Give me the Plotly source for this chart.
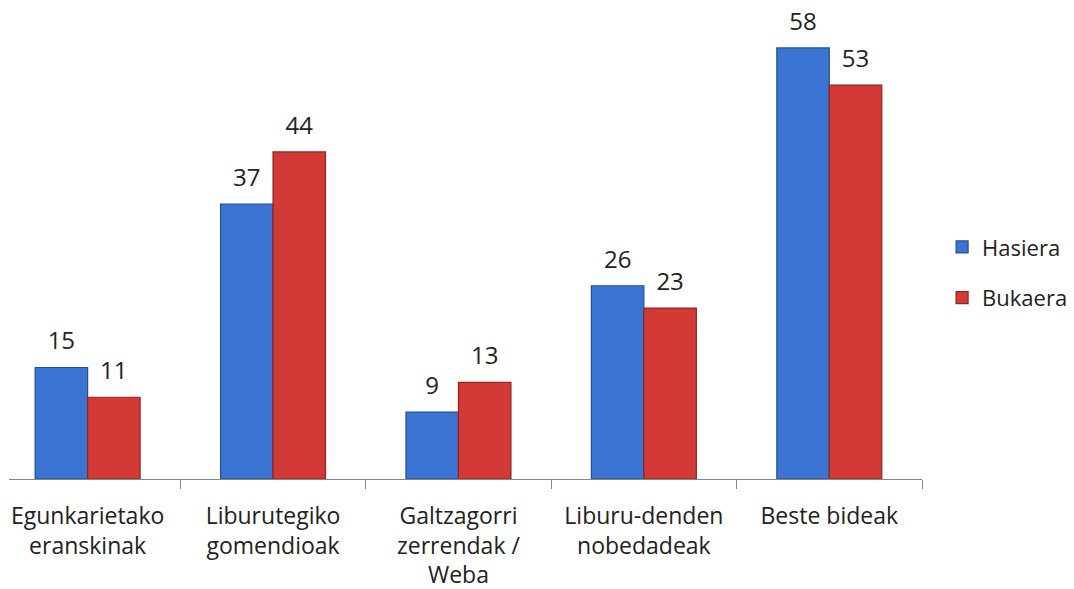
import plotly.graph_objects as go

categories = ["Egunkarietako<br>eranskinak", "Liburutegiko<br>gomendioak",
              "Galtzagorri<br>zerrendak /<br>Weba", "Liburu-denden<br>nobedadeak", "Beste bideak"]
hasiera = [15, 37, 9, 26, 58]
bukaera = [11, 44, 13, 23, 53]

FONT = "Open Sans"
TXT = "#222222"
fig = go.Figure()
series = [("Hasiera", hasiera, "#3b74d2", "#25508f"),
          ("Bukaera", bukaera, "#d33a36", "#8f2421")]
for name, vals, col, edge in series:
    fig.add_trace(go.Bar(
        x=categories, y=vals, name=name, legendgroup=name,
        offsetgroup=name, alignmentgroup="g",
        marker=dict(color=col, line=dict(color=edge, width=1.2)),
    ))
for name, vals, col, edge in series:
    fig.add_trace(go.Scatter(
        x=categories, y=vals, mode="markers+text", showlegend=False,
        offsetgroup=name, alignmentgroup="g",
        text=[str(v) for v in vals], textposition="top center",
        marker=dict(size=18, opacity=0, color=col),
        textfont=dict(size=24, color=TXT, family=FONT), cliponaxis=False,
        hoverinfo="skip",
    ))

fig.update_layout(
    width=1074, height=589,
    margin=dict(l=9, r=152, t=10, b=110, autoexpand=False),
    paper_bgcolor="white", plot_bgcolor="white",
    barmode="group", bargap=0.434, bargroupgap=0,
    scattermode="group", scattergap=0.434,
    font=dict(family=FONT, size=23, color=TXT),
    showlegend=True,
    legend=dict(x=1.022, y=0.44, xanchor="left", yanchor="middle",
                font=dict(size=22, family=FONT, color=TXT),
                traceorder="grouped", tracegroupgap=19,
                itemwidth=30),
    xaxis=dict(range=[-0.424, 4.5], showline=True, linecolor="#868686", linewidth=1,
               ticks="outside", tickson="boundaries", ticklen=9, tickcolor="#868686",
               tickfont=dict(size=23, family=FONT, color=TXT), ticklabelstandoff=16,
               showgrid=False, zeroline=False, automargin=False),
    yaxis=dict(range=[0, 63.1], visible=False, showgrid=False, zeroline=False,
               automargin=False),
)

fig.write_html("out.html", config={"displayModeBar": False},
               post_script="document.body.style.margin='0';")
